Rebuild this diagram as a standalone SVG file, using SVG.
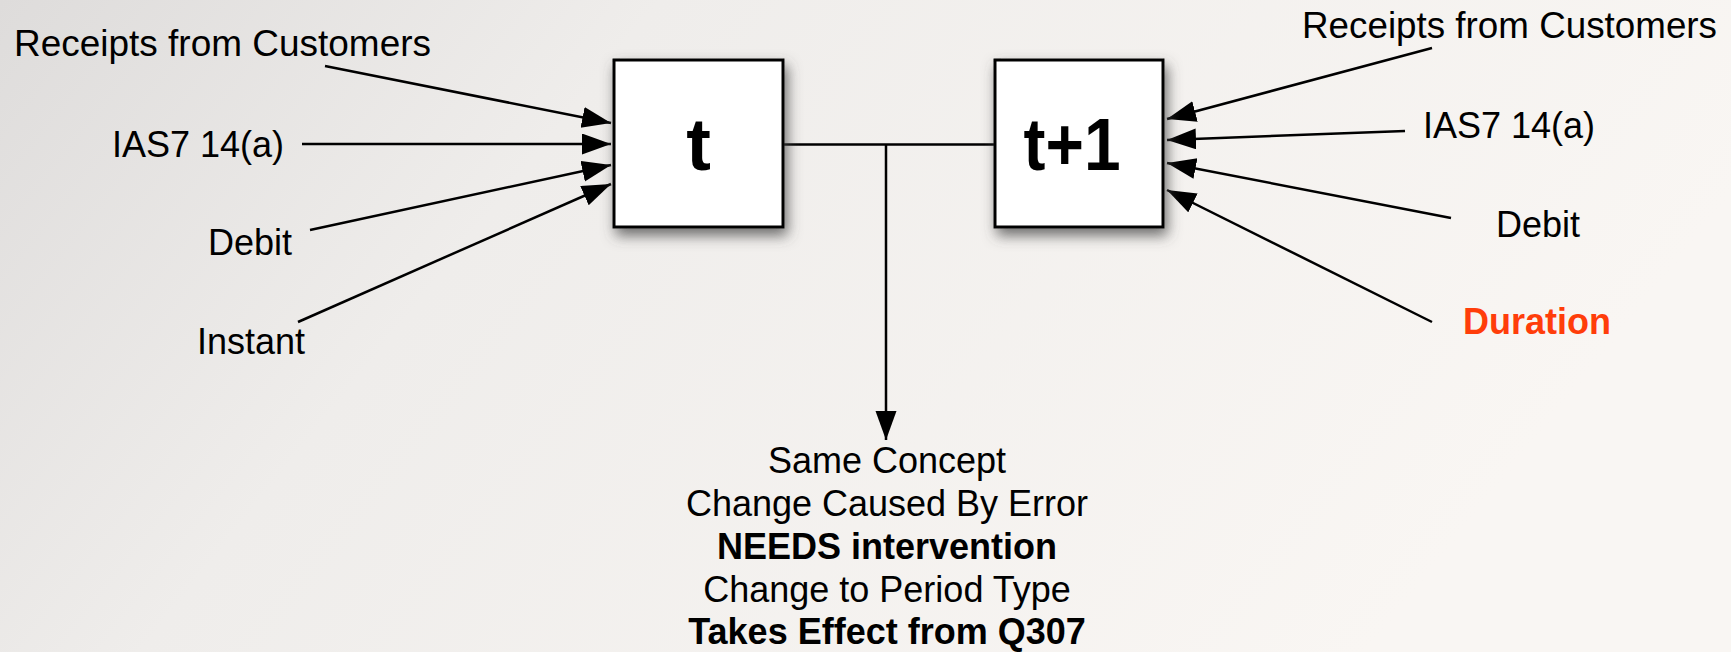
<svg xmlns="http://www.w3.org/2000/svg" width="1731" height="652" viewBox="0 0 1731 652">
<style>
.lbl{font-family:"Liberation Sans",Arial,Helvetica,sans-serif;font-size:36px;fill:#000}
.b{font-weight:bold}
.box{fill:#fff;stroke:#000;stroke-width:3}
.big{font-family:"Liberation Sans",Arial,Helvetica,sans-serif;font-weight:bold;font-size:74px;fill:#000;text-anchor:middle}
.conn line,.conn path{stroke:#000;stroke-width:2.5;fill:none}
.arr{marker-end:url(#ah)}
.mid{text-anchor:middle}
</style>
<defs>
<linearGradient id="bg" x1="0" y1="0" x2="1" y2="0.3">
<stop offset="0" stop-color="#dedcdb"/>
<stop offset="0.35" stop-color="#efedeb"/>
<stop offset="1" stop-color="#f9f6f3"/>
</linearGradient>
<filter id="sh" x="-30%" y="-30%" width="160%" height="160%">
<feDropShadow dx="3" dy="7" stdDeviation="7" flood-color="#4a4a4a" flood-opacity="0.8"/>
</filter>
<marker id="ah" markerUnits="userSpaceOnUse" markerWidth="32" markerHeight="22" refX="29" refY="10.5" orient="auto">
<path d="M0,0 L29,10.5 L0,21 Z" fill="#000"/>
</marker>
</defs>
<rect width="1731" height="652" fill="url(#bg)"/>
<g class="conn" id="connectors">
<line class="arr" x1="325" y1="66" x2="611" y2="123"/>
<line class="arr" x1="302" y1="144" x2="611" y2="144"/>
<line class="arr" x1="310" y1="230" x2="611" y2="165"/>
<line class="arr" x1="298" y1="322" x2="611" y2="184"/>
<line class="arr" x1="1432" y1="48" x2="1167" y2="119"/>
<line class="arr" x1="1405" y1="131" x2="1167" y2="140"/>
<line class="arr" x1="1451" y1="218" x2="1167" y2="163"/>
<line class="arr" x1="1432" y1="322" x2="1167" y2="190"/>
<line x1="783" y1="144.5" x2="995" y2="144.5"/>
<line class="arr" x1="886" y1="144.5" x2="886" y2="440"/>
</g>
<g id="node-t">
<rect class="box" x="614" y="60" width="169" height="167" filter="url(#sh)"/>
<text class="big" x="698.5" y="170">t</text>
</g>
<g id="node-t1">
<rect class="box" x="995" y="60" width="168" height="167" filter="url(#sh)"/>
<text class="big" x="1072" y="170" textLength="97" lengthAdjust="spacingAndGlyphs">t+1</text>
</g>
<g id="labels-left">
<text class="lbl" x="14" y="56" textLength="417" lengthAdjust="spacingAndGlyphs">Receipts from Customers</text>
<text class="lbl" x="112" y="157">IAS7 14(a)</text>
<text class="lbl" x="208" y="255">Debit</text>
<text class="lbl" x="197" y="354">Instant</text>
</g>
<g id="labels-right">
<text class="lbl" x="1302" y="38" textLength="415" lengthAdjust="spacingAndGlyphs">Receipts from Customers</text>
<text class="lbl" x="1423" y="138">IAS7 14(a)</text>
<text class="lbl" x="1496" y="237">Debit</text>
<text class="lbl b" x="1463" y="334" style="fill:#ff3d0a">Duration</text>
</g>
<g id="note">
<text class="lbl mid" x="887" y="473">Same Concept</text>
<text class="lbl mid" x="887" y="516">Change Caused By Error</text>
<text class="lbl mid b" x="887" y="559">NEEDS intervention</text>
<text class="lbl mid" x="887" y="602">Change to Period Type</text>
<text class="lbl mid b" x="887" y="644">Takes Effect from Q307</text>
</g>
</svg>
